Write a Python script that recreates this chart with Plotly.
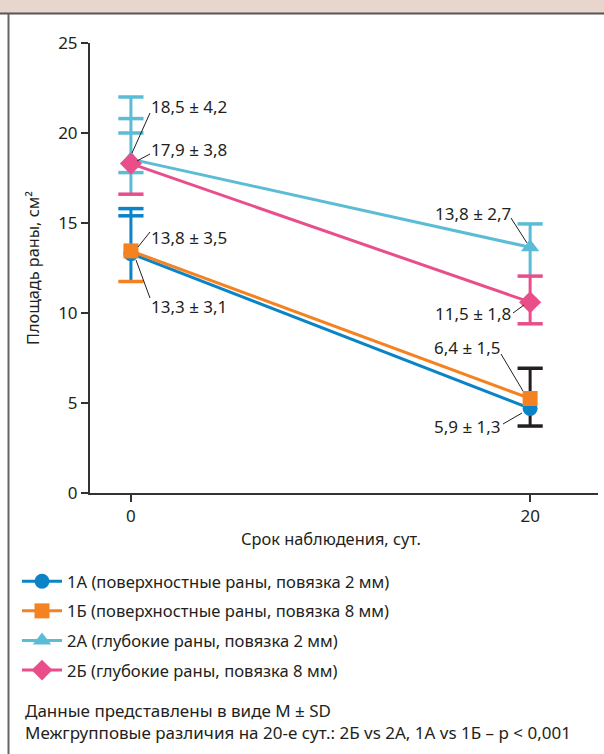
import plotly.graph_objects as go

# ---------------- data ----------------
days = [0, 20]
series_names = [
    "1А (поверхностные раны, повязка 2 мм)",
    "1Б (поверхностные раны, повязка 8 мм)",
    "2А (глубокие раны, повязка 2 мм)",
    "2Б (глубокие раны, повязка 8 мм)",
]
area_1A = [13.3, 4.7]
area_1B = [13.45, 5.25]
area_2A = [18.55, 13.65]
area_2B = [18.3, 10.6]

# error-bar whiskers as drawn: (day, low, high, colour key)
whisker_day = [0, 0, 20, 20, 20]
whisker_lo = [16.6, 11.75, 12.05, 9.4, 3.72]
whisker_hi = [22.0, 15.8, 14.95, 12.05, 6.93]
whisker_key = ["2A", "1A", "2A", "2B", "sd"]

# error-bar caps as drawn
cap_day = [0, 0, 0, 0, 0, 0, 0, 0, 20, 20, 20, 20, 20]
cap_val = [22.0, 20.8, 20.0, 17.8, 16.6, 15.8, 15.4, 11.75, 14.95, 12.05, 9.4, 6.93, 3.72]
cap_key = ["2A", "2A", "2A", "2A", "2B", "1A", "1A", "1B", "2A", "2B", "2B", "sd", "sd"]

# value labels
label_text = ["18,5 ± 4,2", "17,9 ± 3,8", "13,8 ± 3,5", "13,3 ± 3,1",
              "13,8 ± 2,7", "11,5 ± 1,8", "6,4 ± 1,5", "5,9 ± 1,3"]

x_ticks = [0, 20]
y_ticks = [0, 5, 10, 15, 20, 25]

# ---------------- style ----------------
FONT = "Noto Sans"
TXT = "#231f20"
COL = {"1A": "#0a84c6", "1B": "#f58220", "2A": "#5bbcd6", "2B": "#e94e8b", "sd": "#231f20"}
series_keys = ["1A", "1B", "2A", "2B"]
series_vals = [area_1A, area_1B, area_2A, area_2B]
symbols = ["circle", "square", "triangle-up", "diamond"]
msize = [15, 15, 16, 17]

W, H = 604, 754
ML, MR, MT, MB = 90, 6, 43, 261
PW, PH = W - ML - MR, H - MT - MB


def px(x):
    return (x - ML) / PW


def py(y):
    return (H - MB - y) / PH


fig = go.Figure()

# whiskers
for d, lo, hi, k in zip(whisker_day, whisker_lo, whisker_hi, whisker_key):
    fig.add_trace(go.Scatter(x=[d, d], y=[lo, hi], mode="lines",
                             line=dict(color=COL[k], width=3),
                             showlegend=False, hoverinfo="skip"))
# caps
for k in ["2B", "1B", "1A", "2A", "sd"]:
    xs = [d for d, kk in zip(cap_day, cap_key) if kk == k]
    ys = [v for v, kk in zip(cap_val, cap_key) if kk == k]
    fig.add_trace(go.Scatter(x=xs, y=ys, mode="markers",
                             marker=dict(symbol="line-ew", size=18,
                                         line=dict(color=COL[k], width=3.5)),
                             showlegend=False, hoverinfo="skip"))

# series
for name, k, vals, sym, ms in zip(series_names, series_keys, series_vals, symbols, msize):
    fig.add_trace(go.Scatter(x=days, y=vals, mode="lines+markers", name=name,
                             legendgroup=k,
                             line=dict(color=COL[k], width=3),
                             marker=dict(symbol=sym, size=ms, color=COL[k], line=dict(width=0))))

# value labels (pixel placement of callouts)
lab_pos = [  # (text x px, text y px, anchor, leader start px, leader end px)
    (150, 106, "left", (150, 113), (132, 153)),
    (150, 149, "left", (150, 154), (137, 161)),
    (150, 237, "left", (150, 232), (138, 247)),
    (150, 306, "left", (150, 298), (136, 260)),
    (512, 213, "right", (511, 218), (527, 243)),
    (512, 313, "right", (513, 313), (524, 305)),
    (502, 347, "right", (501, 354), (523, 391)),
    (502, 426, "right", (503, 424), (522, 413)),
]
shapes = []
annos = []
for t, (tx, ty, anc, s, e) in zip(label_text, lab_pos):
    annos.append(dict(text=t, xref="paper", yref="paper", x=px(tx), y=py(ty),
                      xanchor=anc, yanchor="middle", showarrow=False, borderpad=0,
                      font=dict(family=FONT, size=17, color=TXT)))
    shapes.append(dict(type="line", xref="paper", yref="paper",
                       x0=px(s[0]), y0=py(s[1]), x1=px(e[0]), y1=py(e[1]),
                       line=dict(color=TXT, width=1)))

# header band + frame
shapes.append(dict(type="rect", xref="paper", yref="paper", x0=px(-2), x1=px(W + 2),
                   y0=py(13), y1=py(-2), fillcolor="#e8d5cc", line=dict(width=0), layer="below"))
shapes.append(dict(type="line", xref="paper", yref="paper", x0=px(0), x1=px(W + 2),
                   y0=py(13.5), y1=py(13.5), line=dict(color="#555555", width=2)))
shapes.append(dict(type="line", xref="paper", yref="paper", x0=px(8.5), x1=px(8.5),
                   y0=py(13.5), y1=py(H + 2), line=dict(color="#666666", width=2)))

# axis titles and footnotes
annos.append(dict(text="Срок наблюдения, сут.", xref="paper", yref="paper",
                  x=px(331), y=py(538), xanchor="center", yanchor="middle", showarrow=False,
                  font=dict(family=FONT, size=16.4, color=TXT)))
annos.append(dict(text="Площадь раны, см²", xref="paper", yref="paper", textangle=-90,
                  x=px(33), y=py(268), xanchor="center", yanchor="middle", showarrow=False,
                  font=dict(family=FONT, size=16.3, color=TXT)))
annos.append(dict(text="Данные представлены в виде M ± SD", xref="paper", yref="paper",
                  x=px(23), y=py(710), xanchor="left", yanchor="middle", showarrow=False,
                  font=dict(family=FONT, size=17, color=TXT)))
annos.append(dict(text="Межгрупповые различия на 20-е сут.: 2Б vs 2А, 1А vs 1Б – p < 0,001",
                  xref="paper", yref="paper",
                  x=px(23), y=py(732), xanchor="left", yanchor="middle", showarrow=False,
                  font=dict(family=FONT, size=17, color=TXT)))

fig.update_layout(
    width=W, height=H,
    margin=dict(l=ML, r=MR, t=MT, b=MB),
    paper_bgcolor="white", plot_bgcolor="white",
    font=dict(family=FONT, size=16, color=TXT),
    shapes=shapes, annotations=annos,
    legend=dict(x=px(17), y=py(564), xanchor="left", yanchor="top",
                font=dict(family=FONT, size=16.6, color=TXT), traceorder="grouped",
                bgcolor="rgba(0,0,0,0)", tracegroupgap=5, itemwidth=40),
    xaxis=dict(range=[-2.05, 23.4], tickvals=x_ticks, ticktext=[str(v) for v in x_ticks],
               showgrid=False, zeroline=False, showline=True, linecolor="#333333", linewidth=2,
               ticks="outside", ticklen=7, tickwidth=1.5, tickcolor="#333333",
               tickfont=dict(family=FONT, size=17, color=TXT)),
    yaxis=dict(range=[0, 25], tickvals=y_ticks, showgrid=False, zeroline=False,
               showline=True, linecolor="#333333", linewidth=2,
               ticks="outside", ticklen=7, tickwidth=1.5, tickcolor="#333333",
               tickfont=dict(family=FONT, size=17, color=TXT)),
    showlegend=True,
)

fig.write_html("out.html", config={"displayModeBar": False},
               post_script="document.body.style.margin='0px';")
